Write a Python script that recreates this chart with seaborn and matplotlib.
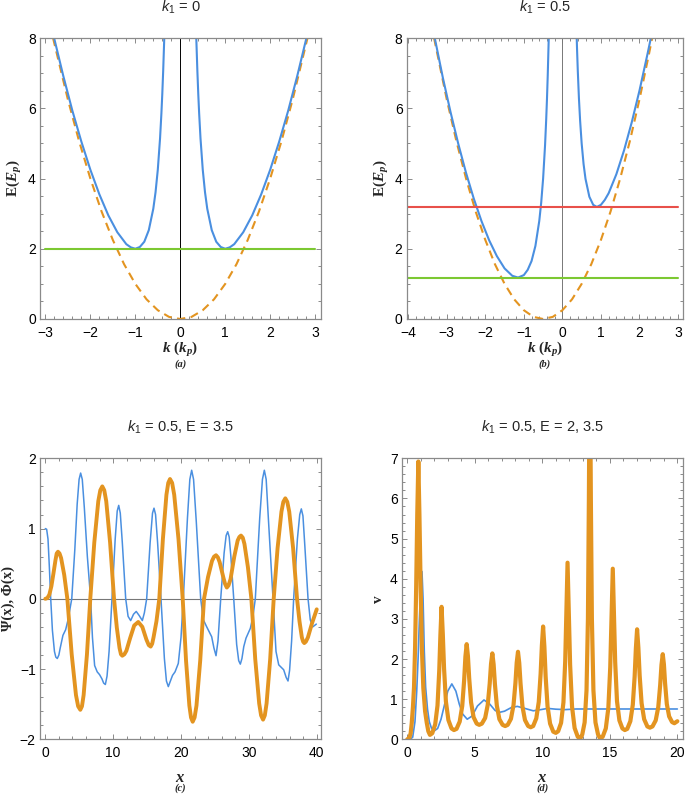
import numpy as np
import pandas as pd
import matplotlib
matplotlib.use("Agg")
import matplotlib.pyplot as plt
from matplotlib.ticker import MultipleLocator
import seaborn as sns

# ---- panel (a): k1 = 0 ----
ka_left = [-2.806, -2.6, -2.4, -2.2, -2.0, -1.8, -1.6, -1.4, -1.2, -1.1, -1.0,
           -0.9, -0.8, -0.7, -0.6, -0.55, -0.5, -0.45, -0.42, -0.4, -0.38, -0.356]
Ea_left = [8.0, 6.91, 5.93, 5.05, 4.25, 3.55, 2.95, 2.47, 2.13, 2.04, 2.0,
           2.05, 2.20, 2.53, 3.14, 3.61, 4.25, 5.14, 5.85, 6.41, 7.07, 8.0]
ka_right = [0.356, 0.38, 0.4, 0.42, 0.45, 0.5, 0.55, 0.6, 0.7, 0.8, 0.9,
            1.0, 1.1, 1.2, 1.4, 1.6, 1.8, 2.0, 2.2, 2.4, 2.6, 2.806]
Ea_right = [8.0, 7.07, 6.41, 5.85, 5.14, 4.25, 3.61, 3.14, 2.53, 2.20, 2.05,
            2.0, 2.04, 2.13, 2.47, 2.95, 3.55, 4.25, 5.05, 5.93, 6.91, 8.0]
ka_free = [-2.83, -2.5, -2.25, -2.0, -1.75, -1.5, -1.25, -1.0, -0.75, -0.5, -0.25, 0.0,
           0.25, 0.5, 0.75, 1.0, 1.25, 1.5, 1.75, 2.0, 2.25, 2.5, 2.83]
Ea_free = [8.0, 6.25, 5.06, 4.0, 3.06, 2.25, 1.56, 1.0, 0.56, 0.25, 0.06, 0.0,
           0.06, 0.25, 0.56, 1.0, 1.56, 2.25, 3.06, 4.0, 5.06, 6.25, 8.0]
Ea_level = 2.0

# ---- panel (b): k1 = 0.5 ----
kb_left = [-3.312, -3.1, -2.9, -2.7, -2.5, -2.3, -2.1, -1.9, -1.7, -1.5, -1.3, -1.15,
           -1.0, -0.9, -0.8, -0.7, -0.6, -0.55, -0.5, -0.45, -0.42, -0.4, -0.38, -0.354]
Eb_left = [8.0, 6.86, 5.88, 4.98, 4.16, 3.43, 2.79, 2.24, 1.79, 1.44, 1.23, 1.18,
           1.25, 1.40, 1.65, 2.08, 2.79, 3.31, 4.0, 4.94, 5.68, 6.26, 6.94, 8.0]
kb_right = [0.372, 0.38, 0.4, 0.43, 0.46, 0.5, 0.55, 0.6, 0.7, 0.8, 0.895,
            1.0, 1.1, 1.2, 1.4, 1.6, 1.8, 2.0, 2.2, 2.296]
Eb_right = [8.0, 7.70, 7.06, 6.27, 5.65, 5.0, 4.41, 3.99, 3.48, 3.25, 3.19,
            3.25, 3.39, 3.58, 4.12, 4.80, 5.60, 6.5, 7.50, 8.0]
kb_free = [-3.33, -3.0, -2.75, -2.5, -2.25, -2.0, -1.75, -1.5, -1.25, -1.0, -0.75, -0.5,
           -0.25, 0.0, 0.25, 0.5, 0.75, 1.0, 1.25, 1.5, 1.75, 2.0, 2.25, 2.33]
Eb_free = [8.0, 6.25, 5.06, 4.0, 3.06, 2.25, 1.56, 1.0, 0.56, 0.25, 0.06, 0.0,
           0.06, 0.25, 0.56, 1.0, 1.56, 2.25, 3.06, 4.0, 5.06, 6.25, 7.56, 8.0]
Eb_low = 1.18
Eb_high = 3.2

# ---- panel (c): k1 = 0.5, E = 3.5 ----
xc_psi = [0, 0.2, 0.4, 0.6, 0.8, 1.05, 1.35, 1.55, 1.77, 2.0, 2.2, 2.6, 3.0, 3.35, 3.9,
          4.35, 4.7, 4.98, 5.21, 5.45, 5.75, 6.2, 6.68, 6.95, 7.27, 7.65, 8.0, 8.35, 8.6,
          8.85, 9.1, 9.4, 9.83, 10.3, 10.6, 10.82, 11.05, 11.35, 11.85, 12.2, 12.58, 13.0,
          13.4, 13.85, 14.3, 14.6, 14.94, 15.45, 15.8, 16.02, 16.25, 16.55, 17.05, 17.55,
          17.85, 18.13, 18.4, 18.75, 19.12, 19.6, 20.0, 20.34, 20.95, 21.3, 21.57, 21.85,
          22.25, 22.9, 23.3, 23.79, 24.52, 24.85, 25.16, 25.45, 25.85, 26.35, 26.65, 26.88,
          27.1, 27.35, 27.77, 28.2, 28.5, 28.74, 28.98, 29.25, 29.58, 30.22, 30.6, 30.95,
          31.6, 32.0, 32.28, 32.55, 32.9, 33.56, 34.0, 34.4, 35.13, 35.5, 35.77, 36.0, 36.3,
          36.6, 37.15, 37.5, 37.73, 37.97, 38.25, 38.72, 39.05, 39.41, 39.94]
yc_psi = [1.0, 0.99, 0.85, 0.45, 0.0, -0.45, -0.75, -0.83, -0.85, -0.8, -0.7, -0.52, -0.44,
          -0.3, 0.0, 0.7, 1.35, 1.70, 1.79, 1.70, 1.3, 0.6, 0.0, -0.55, -0.95, -1.04, -1.08,
          -1.14, -1.2, -1.22, -1.1, -0.75, 0.0, 0.85, 1.25, 1.33, 1.22, 0.8, 0.0, -0.25,
          -0.31, -0.22, -0.18, -0.24, -0.31, -0.2, 0.0, 0.8, 1.22, 1.29, 1.2, 0.8, 0.0,
          -0.85, -1.17, -1.25, -1.18, -1.09, -1.04, -0.92, -0.55, 0.0, 1.15, 1.7, 1.83,
          1.7, 1.1, 0.0, -0.3, -0.40, -0.54, -0.7, -0.81, -0.6, 0.0, 0.65, 0.9, 0.955,
          0.88, 0.6, 0.0, -0.65, -0.88, -0.93, -0.85, -0.68, -0.56, -0.42, -0.25, 0.0,
          1.15, 1.7, 1.83, 1.7, 1.1, 0.0, -0.75, -0.94, -1.01, -1.12, -1.17, -1.02, -0.6,
          0.0, 0.85, 1.2, 1.28, 1.18, 0.75, 0.0, -0.3, -0.40, -0.36]
xc_phi = [0, 0.3, 0.6, 0.9, 1.2, 1.5, 1.68, 1.87, 2.1, 2.33, 2.79, 3.25, 3.89, 4.52, 4.84,
          5.16, 5.405, 5.65, 6.14, 6.63, 7.22, 7.81, 8.105, 8.4, 8.69, 8.98, 9.55, 10.13,
          10.54, 10.94, 11.15, 11.35, 11.65, 11.95, 12.5, 13.1, 13.7, 14.3, 14.9, 15.25,
          15.53, 15.75, 15.95, 16.38, 16.8, 17.33, 17.85, 18.12, 18.38, 18.69, 19.0, 19.63,
          20.25, 20.74, 21.23, 21.475, 21.72, 22.0, 22.28, 22.83, 23.39, 23.98, 24.57,
          24.87, 25.16, 25.43, 25.7, 26.25, 26.5, 26.75, 27.0, 27.3, 27.85, 28.35, 28.6,
          28.84, 29.1, 29.35, 29.86, 30.37, 30.94, 31.52, 31.8, 32.09, 32.35, 32.61, 33.14,
          33.66, 34.23, 34.8, 35.08, 35.37, 35.66, 35.95, 36.52, 37.1, 37.46, 37.81, 38.0,
          38.17, 38.4, 38.7, 39.3, 40.0]
yc_phi = [0.0, 0.01, 0.06, 0.18, 0.36, 0.55, 0.645, 0.67, 0.645, 0.58, 0.34, 0.0, -0.79,
          -1.37, -1.53, -1.58, -1.53, -1.37, -0.79, 0.0, 0.80, 1.39, 1.545, 1.6, 1.545,
          1.39, 0.80, 0.0, -0.41, -0.70, -0.79, -0.81, -0.79, -0.74, -0.56, -0.38, -0.33,
          -0.40, -0.58, -0.66, -0.68, -0.64, -0.55, -0.32, 0.0, 0.85, 1.48, 1.65, 1.705,
          1.65, 1.48, 0.85, 0.0, -0.88, -1.52, -1.69, -1.75, -1.69, -1.52, -0.88, 0.0, 0.31,
          0.54, 0.60, 0.62, 0.59, 0.52, 0.30, 0.21, 0.16, 0.19, 0.28, 0.60, 0.83, 0.88, 0.9,
          0.87, 0.78, 0.45, 0.0, -0.86, -1.49, -1.66, -1.72, -1.66, -1.49, -0.86, 0.0, 0.72,
          1.24, 1.38, 1.43, 1.38, 1.24, 0.72, 0.0, -0.32, -0.55, -0.61, -0.63, -0.61, -0.55,
          -0.35, -0.15]

# ---- panel (d): k1 = 0.5, E = 2 and E = 3.5 ----
xd_e2 = [0, 0.2, 0.4, 0.57, 0.7, 0.8, 0.89, 0.98, 1.09, 1.17, 1.26, 1.36, 1.5, 1.63, 1.8,
         2.0, 2.25, 2.5, 2.75, 3.0, 3.3, 3.6, 3.85, 4.1, 4.44, 4.8, 5.2, 5.68, 6.1, 6.5,
         6.81, 7.2, 7.7, 8.15, 8.7, 9.33, 9.9, 10.4, 11.0, 11.7, 12.5, 14.0, 16.0, 18.0, 20.0]
vd_e2 = [0.0, 0.0, 0.05, 0.44, 1.2, 2.0, 2.9, 3.7, 4.18, 3.5, 2.2, 1.3, 0.75, 0.44, 0.27,
         0.21, 0.27, 0.5, 0.85, 1.2, 1.38, 1.2, 0.88, 0.63, 0.5, 0.58, 0.83, 0.98, 0.88,
         0.72, 0.67, 0.7, 0.79, 0.82, 0.77, 0.71, 0.74, 0.77, 0.75, 0.74, 0.755, 0.755,
         0.755, 0.755, 0.755]
xd_e35 = [0, 0.15, 0.25, 0.33, 0.42, 0.5, 0.58, 0.66, 0.74, 0.82, 0.9, 0.99, 1.08, 1.19,
          1.32, 1.44, 1.56, 1.68,
          1.85, 2.067, 2.239, 2.368, 2.454, 2.54, 2.632, 2.724, 2.862, 3.046, 3.276, 3.46,
          3.648, 3.883, 4.071, 4.212, 4.306, 4.4, 4.493, 4.586, 4.726, 4.912, 5.144, 5.33,
          5.524, 5.767, 5.96, 6.106, 6.203, 6.3, 6.395, 6.49, 6.633, 6.823, 7.06, 7.25,
          7.44, 7.678, 7.868, 8.01, 8.105, 8.2, 8.294, 8.388, 8.529, 8.717, 8.952, 9.14,
          9.324, 9.554, 9.738, 9.876, 9.968, 10.06, 10.154, 10.248, 10.389, 10.577, 10.812, 11.0,
          11.174, 11.392, 11.566, 11.696, 11.783, 11.87, 11.965, 12.06, 12.203, 12.393, 12.63, 12.82,
          12.96, 13.135, 13.275, 13.38, 13.45, 13.52, 13.596, 13.672, 13.786, 13.938, 14.128, 14.28,
          14.468, 14.703, 14.891, 15.032, 15.126, 15.22, 15.309, 15.398, 15.532, 15.71, 15.932, 16.11,
          16.292, 16.52, 16.702, 16.838, 16.929, 17.02, 17.115, 17.21, 17.353, 17.543, 17.78, 17.97,
          18.16, 18.398, 18.588, 18.73, 18.825, 18.92, 19.006, 19.092, 19.221, 19.393, 19.608,
          19.78, 20.0]
vd_e35 = [0.0, 0.03, 0.15, 0.4, 0.8, 1.3, 2.3, 3.8, 5.6, 6.92, 5.6, 3.8, 2.3, 1.27, 0.7,
          0.42, 0.2, 0.11,
          0.15, 0.37, 0.84, 1.71, 2.60, 3.30, 2.62, 1.77, 0.94, 0.48, 0.27, 0.23,
          0.26, 0.44, 0.83, 1.47, 2.06, 2.37, 2.07, 1.52, 0.92, 0.55, 0.39, 0.36,
          0.39, 0.53, 0.86, 1.39, 1.88, 2.14, 1.87, 1.38, 0.84, 0.50, 0.36, 0.33,
          0.36, 0.51, 0.85, 1.40, 1.91, 2.18, 1.90, 1.39, 0.82, 0.48, 0.33, 0.30,
          0.33, 0.52, 0.93, 1.63, 2.33, 2.81, 2.31, 1.56, 0.82, 0.39, 0.19, 0.16,
          0.20, 0.41, 0.92, 1.94, 3.13, 4.40, 3.09, 1.86, 0.81, 0.28, 0.06, 0.02,
          0.12, 0.42, 1.22, 3.01, 6.01, 10.0, 6.01, 3.01, 1.22, 0.42, 0.12, 0.02,
          0.06, 0.27, 0.78, 1.80, 2.98, 4.25, 3.04, 1.92, 0.95, 0.47, 0.27, 0.23,
          0.26, 0.45, 0.86, 1.56, 2.26, 2.74, 2.28, 1.59, 0.90, 0.50, 0.32, 0.29,
          0.32, 0.47, 0.80, 1.35, 1.85, 2.12, 1.87, 1.40, 0.88, 0.57, 0.43,
          0.40, 0.45]

BLUE = "#4a8fe0"
ORANGE = "#e39420"
GREEN = "#7cc832"
RED = "#e8504a"
FRAME = "#8a8a8a"

sns.set_style("ticks")
plt.rcParams["font.family"] = ["Liberation Sans", "DejaVu Sans"]
plt.rcParams["mathtext.fontset"] = "custom"
plt.rcParams["mathtext.rm"] = "Liberation Serif:bold"
plt.rcParams["mathtext.it"] = "Liberation Serif:italic:bold"
plt.rcParams["mathtext.bf"] = "Liberation Serif:bold"
plt.rcParams["mathtext.sf"] = "Liberation Sans"
plt.rcParams["mathtext.cal"] = "Liberation Sans:italic"

fig = plt.figure(figsize=(6.85, 7.94), dpi=100)
W, H = 685.0, 794.0


def make_ax(l, r, t, b):
    return fig.add_axes([l / W, 1 - b / H, (r - l) / W, (b - t) / H])


ax_a = make_ax(40, 321, 38, 319)
ax_b = make_ax(406.7, 683, 38, 319)
ax_c = make_ax(40, 321, 458.3, 739.3)
ax_d = make_ax(402, 683, 458.3, 739.3)


def style(ax, xmaj, xmin, ymaj, ymin):
    for sp in ax.spines.values():
        sp.set_visible(True)
        sp.set_color(FRAME)
        sp.set_linewidth(0.9)
    ax.xaxis.set_major_locator(MultipleLocator(xmaj))
    ax.xaxis.set_minor_locator(MultipleLocator(xmin))
    ax.yaxis.set_major_locator(MultipleLocator(ymaj))
    ax.yaxis.set_minor_locator(MultipleLocator(ymin))
    ax.tick_params(which="both", direction="in", top=True, right=True, color=FRAME,
                   width=0.7, labelsize=10, labelcolor="black")
    ax.tick_params(which="major", length=3.5)
    ax.tick_params(which="minor", length=2)
    ax.tick_params(axis="x", pad=5)
    ax.tick_params(axis="y", pad=3)
    ax.set_xlabel("")
    ax.set_ylabel("")


def line(ax, x, y, color, lw, **kw):
    sns.lineplot(x=x, y=y, ax=ax, color=color, linewidth=lw, sort=False,
                 estimator=None, legend=False, **kw)


# (a)
line(ax_a, ka_free, Ea_free, ORANGE, 1.5, linestyle=(0, (4, 2.6)))
line(ax_a, ka_left, Ea_left, BLUE, 1.5)
line(ax_a, ka_right, Ea_right, BLUE, 1.5)
line(ax_a, [-3, 3], [Ea_level, Ea_level], GREEN, 1.5)
ax_a.axvline(0, color="black", lw=0.7, zorder=1)
ax_a.set_xlim(-3.12, 3.13)
ax_a.set_ylim(0, 8)
style(ax_a, 1, 0.2, 2, 0.5)

# (b)
line(ax_b, kb_free, Eb_free, ORANGE, 1.5, linestyle=(0, (4, 2.6)))
line(ax_b, kb_left, Eb_left, BLUE, 1.5)
line(ax_b, kb_right, Eb_right, BLUE, 1.5)
line(ax_b, [-4, 3], [Eb_high, Eb_high], RED, 1.5)
line(ax_b, [-4, 3], [Eb_low, Eb_low], GREEN, 1.5)
ax_b.axvline(0, color="#777777", lw=0.7, zorder=1)
ax_b.set_xlim(-4.04, 3.13)
ax_b.set_ylim(0, 8)
style(ax_b, 1, 0.2, 2, 0.5)

# (c)
ax_c.axhline(0, color="#777777", lw=0.8, zorder=1)
line(ax_c, xc_psi, yc_psi, BLUE, 1.1)
line(ax_c, xc_phi, yc_phi, ORANGE, 2.8)
ax_c.set_xlim(-0.78, 40.63)
ax_c.set_ylim(-2, 2)
style(ax_c, 10, 2, 1, 0.2)

# (d)
line(ax_d, xd_e2, vd_e2, BLUE, 1.2)
line(ax_d, xd_e35, vd_e35, ORANGE, 3.0)
ax_d.set_xlim(-0.39, 20.42)
ax_d.set_ylim(0, 7)
style(ax_d, 5, 1, 1, 0.2)

# titles
tkw = dict(ha="center", va="center", fontsize=10.5)
ax_a.text(0.5, 1.11, r"$\mathcal{k}_{\mathsf{1}}$ = 0", transform=ax_a.transAxes, **tkw)
ax_b.text(0.5, 1.11, r"$\mathcal{k}_{\mathsf{1}}$ = 0.5", transform=ax_b.transAxes, **tkw)
ax_c.text(0.5, 1.111, r"$\mathcal{k}_{\mathsf{1}}$ = 0.5, E = 3.5", transform=ax_c.transAxes, **tkw)
ax_d.text(0.5, 1.111, r"$\mathcal{k}_{\mathsf{1}}$ = 0.5, E = 2, 3.5", transform=ax_d.transAxes, **tkw)

# axis labels
lkw = dict(ha="center", va="center", fontsize=11)
for ax, tag in [(ax_a, "(a)"), (ax_b, "(b)")]:
    ax.text(0.5, -0.11, r"$k\ (k_p)$", transform=ax.transAxes, **lkw)
    ax.text(0.5, -0.16, tag, transform=ax.transAxes, ha="center", va="center",
            fontsize=7.5, family="Liberation Serif", style="italic", weight="bold")
    ax.text(-0.09, 0.5, r"$\mathrm{E}(E_p)$", transform=ax.transAxes, rotation=90, **lkw)
for ax, tag in [(ax_c, "(c)"), (ax_d, "(d)")]:
    ax.text(0.5, -0.136, r"$x$", transform=ax.transAxes, ha="center", va="center", fontsize=12)
    ax.text(0.5, -0.175, tag, transform=ax.transAxes, ha="center", va="center",
            fontsize=7.5, family="Liberation Serif", style="italic", weight="bold")
ax_c.text(-0.112, 0.5, "\u03a8(x), \u03a6(x)", transform=ax_c.transAxes, rotation=90,
          ha="center", va="center", fontsize=10.5, family="Liberation Serif", weight="bold")
ax_d.text(-0.085, 0.5, "v", transform=ax_d.transAxes, rotation=90,
          ha="center", va="center", fontsize=11, family="Liberation Serif", weight="bold")

fig.savefig("out.png", dpi=100)
